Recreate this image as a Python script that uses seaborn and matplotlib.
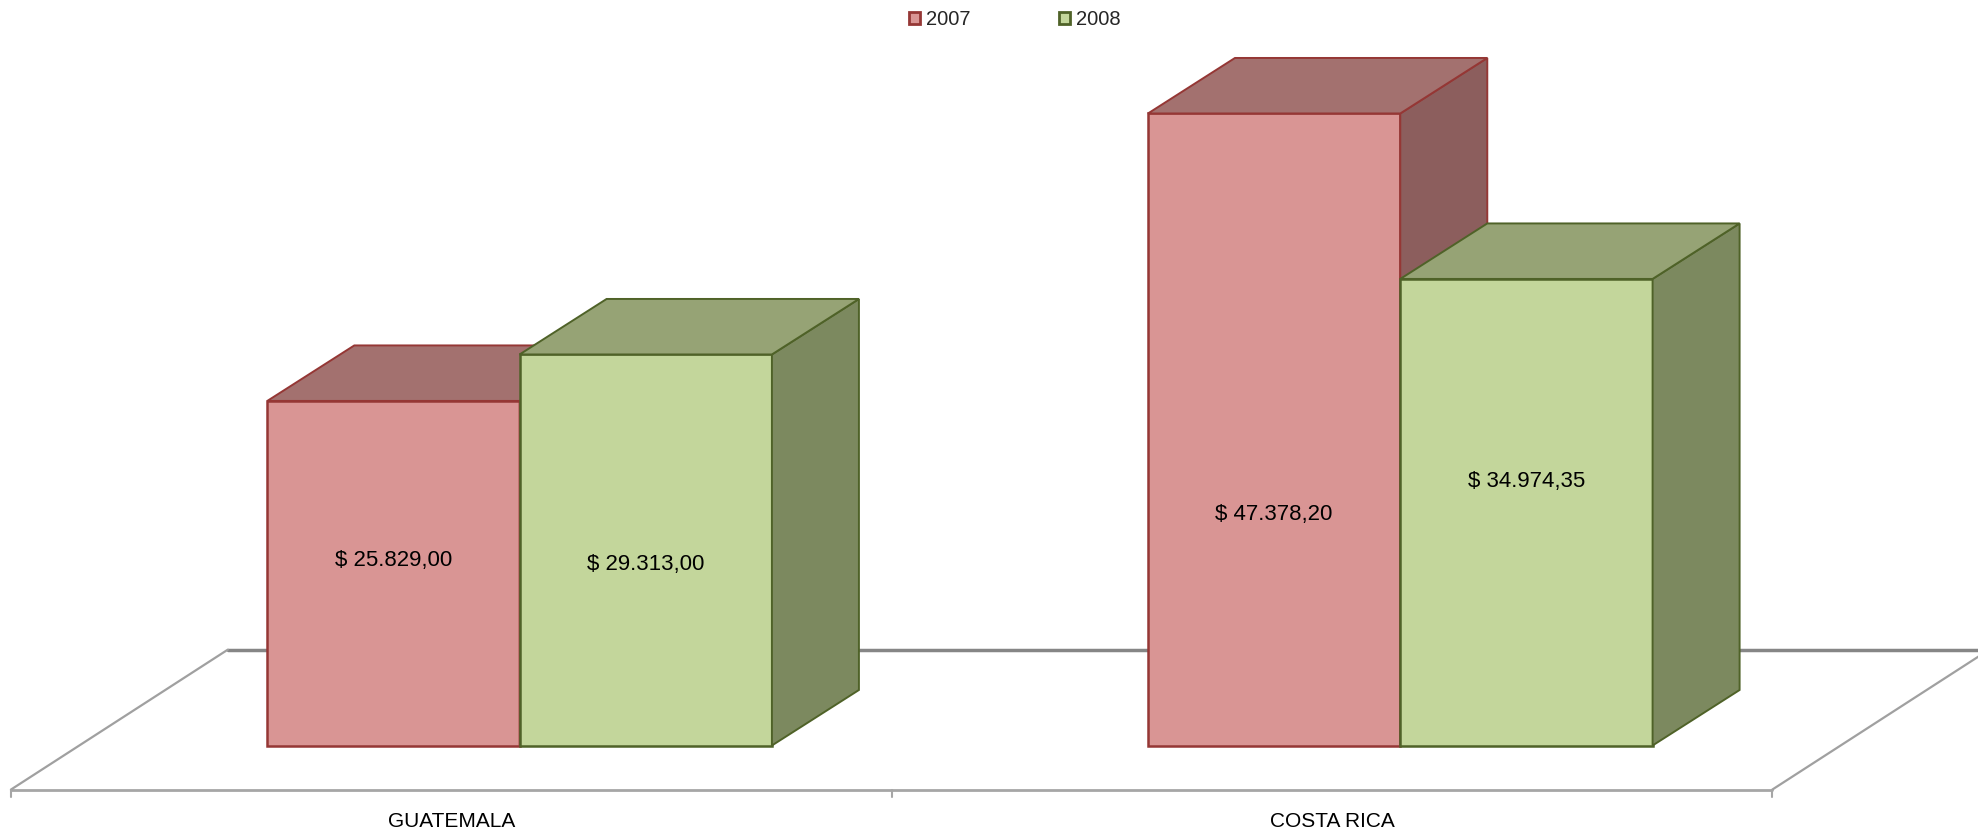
import pandas as pd
import matplotlib.pyplot as plt
import seaborn as sns
from matplotlib.patches import Polygon, Patch

# DATA
paises = ['GUATEMALA', 'COSTA RICA']
anios = ['2007', '2008']
valores_2007 = [25829.00, 47378.20]
valores_2008 = [29313.00, 34974.35]
# y where Excel put the value labels
label_y_2007 = [13900, 17300]
label_y_2008 = [13600, 19760]

df = pd.DataFrame({
    'pais': paises * 2,
    'anio': [anios[0]] * 2 + [anios[1]] * 2,
    'valor': valores_2007 + valores_2008,
})

# COLORS (front, side, top, edge)
colores = {
    '2007': ('#D99594', '#8C5E5D', '#A3716F', '#953735'),
    '2008': ('#C3D69B', '#7C895F', '#96A375', '#4F6228'),
}

sns.set_style('white')
plt.rcParams['font.family'] = ['Liberation Sans', 'DejaVu Sans']

fig = plt.figure(figsize=(19.78, 8.32), dpi=100)
ax = fig.add_axes([0, 0, 1, 1])

sns.barplot(data=df, x='pais', y='valor', hue='anio', hue_order=anios,
            palette=[colores[a][0] for a in anios], width=0.573,
            saturation=1, linewidth=1.8, legend=False, ax=ax, zorder=2)

ax.set_xlim(-0.590, 1.656)
ax.set_ylim(-6484, 55884)
ax.axis('off')

# 3D depth of bars and floor (data units)
dx, dy = 0.0988, 4161
Dx, Dy = 0.2464, 10496
f = 0.315

# floor
fx0, fx1 = -0.5, len(paises) - 0.5
front_y = -f * Dy
back_y = (1 - f) * Dy
ax.plot([fx0 - f * Dx, fx1 - f * Dx], [front_y, front_y], color='#A6A6A6', lw=2, zorder=1)
ax.plot([fx0 + (1 - f) * Dx, fx1 + (1 - f) * Dx + 1], [back_y, back_y], color='#868686', lw=2.5, zorder=1)
for xb in [fx0, fx1]:
    ax.plot([xb - f * Dx, xb + (1 - f) * Dx], [front_y, back_y], color='#A0A0A0', lw=1.6, zorder=1)
for xb in range(len(paises) + 1):
    xt = xb - 0.5 - f * Dx
    ax.plot([xt, xt], [front_y, front_y - 520], color='#A6A6A6', lw=1.5, zorder=1)

# side and top faces
for k, cont in enumerate(ax.containers):
    front, side, top, edge = colores[anios[k]]
    for p in cont:
        x0, w, h = p.get_x(), p.get_width(), p.get_height()
        p.set_edgecolor(edge)
        p.set_zorder(2 + k)
        lado = Polygon([(x0 + w, 0), (x0 + w + dx, dy), (x0 + w + dx, h + dy), (x0 + w, h)],
                       closed=True, facecolor=side, edgecolor=edge, lw=1.4, zorder=2 + k)
        tapa = Polygon([(x0, h), (x0 + dx, h + dy), (x0 + w + dx, h + dy), (x0 + w, h)],
                       closed=True, facecolor=top, edgecolor=edge, lw=1.4, zorder=2 + k)
        ax.add_patch(lado)
        ax.add_patch(tapa)

# value labels
def fmt(v):
    s = f'{v:,.2f}'.replace(',', 'X').replace('.', ',').replace('X', '.')
    return '$ ' + s

for k, (vals, ys) in enumerate([(valores_2007, label_y_2007), (valores_2008, label_y_2008)]):
    for p, v, yl in zip(ax.containers[k], vals, ys):
        ax.text(p.get_x() + p.get_width() / 2, yl, fmt(v), ha='center', va='center',
                fontsize=16, color='black', zorder=10)

# category labels
for i, pais in enumerate(paises):
    ax.text(i - f * Dx, -5660, pais, ha='center', va='center', fontsize=15,
            family=['Liberation Sans Narrow', 'Liberation Sans'], color='black')

# legend
handles = [Patch(facecolor=colores[a][0], edgecolor=colores[a][3], lw=2) for a in anios]
fig.legend(handles, anios, loc='upper center', bbox_to_anchor=(0.513, 1.01), ncol=2,
           frameon=False, fontsize=14.5, handlelength=0.55, handleheight=0.55,
           handletextpad=0.3, columnspacing=4.4)

fig.savefig('out.png', dpi=100)
